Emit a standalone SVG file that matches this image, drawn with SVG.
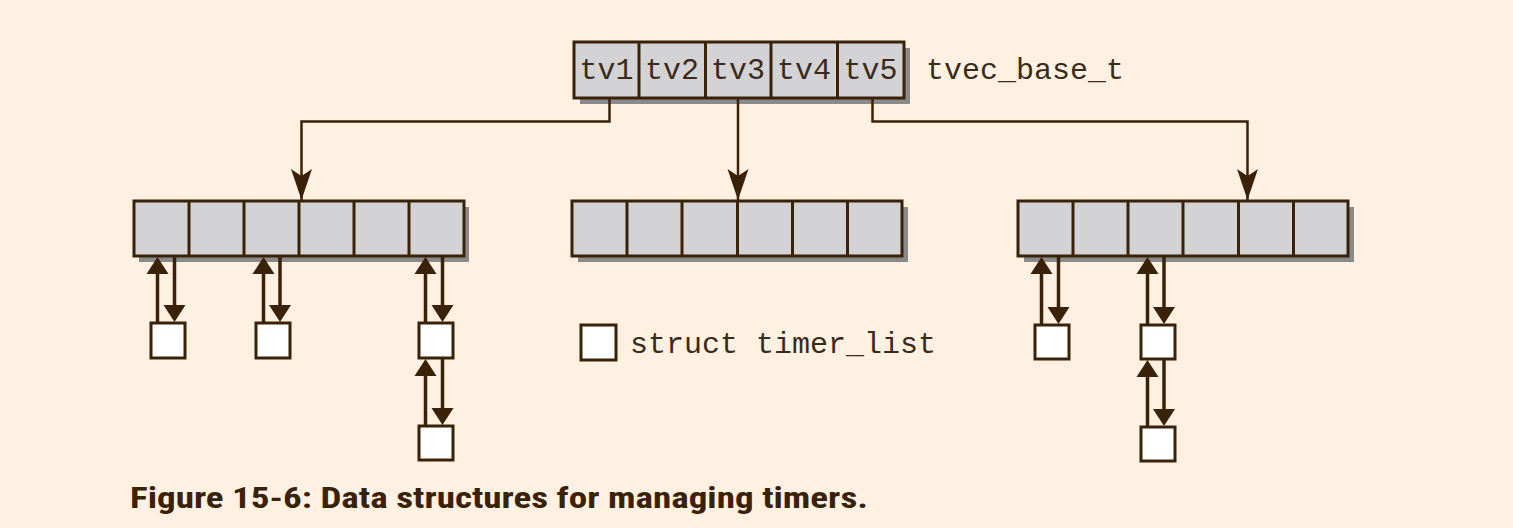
<svg xmlns="http://www.w3.org/2000/svg" width="1513" height="528" viewBox="0 0 1513 528">
<style>
.shadow{fill:#8a8a8a;}
.cell{fill:#d3d3d5;stroke:#3a2208;stroke-width:3;}
.div{stroke:#3a2208;stroke-width:3;}
.timer{fill:#ffffff;stroke:#3a2208;stroke-width:3;}
.mono{font-family:"Liberation Mono","DejaVu Sans Mono",monospace;font-size:30px;fill:#3a2a1a;}
.conn{fill:none;stroke:#3a2208;stroke-width:2.5;}
.link{fill:none;stroke:#3a2208;stroke-width:3.5;}
.head{fill:#3a2208;}
.caption{font-family:"Liberation Sans Narrow","Roboto Condensed","Liberation Sans",sans-serif;font-weight:bold;font-size:29px;fill:#3a2208;}
</style>
<defs>
<marker id="barb" markerUnits="userSpaceOnUse" viewBox="-32 -12 34 24" markerWidth="34" markerHeight="24" refX="0" refY="0" orient="auto">
<path d="M0,0 L-31,-10.5 L-24,0 L-31,10.5 Z" fill="#3a2208"/>
</marker>
<path id="up" class="head" d="M0,0 L-11,17 L11,17 Z"/>
<path id="down" class="head" d="M0,0 L-11,-17 L11,-17 Z"/>
</defs>
<rect width="1513" height="528" fill="#fff1e2"/>

<g id="tvec_base">
<rect class="shadow" x="580" y="48" width="330" height="56"/>
<rect class="cell" x="574" y="42" width="330" height="56"/>
<line class="div" x1="639" y1="42" x2="639" y2="98"/>
<line class="div" x1="705.5" y1="42" x2="705.5" y2="98"/>
<line class="div" x1="771" y1="42" x2="771" y2="98"/>
<line class="div" x1="837.5" y1="42" x2="837.5" y2="98"/>
<text class="mono" x="606.5" y="79" text-anchor="middle">tv1</text>
<text class="mono" x="672" y="79" text-anchor="middle">tv2</text>
<text class="mono" x="738" y="79" text-anchor="middle">tv3</text>
<text class="mono" x="804" y="79" text-anchor="middle">tv4</text>
<text class="mono" x="870.5" y="79" text-anchor="middle">tv5</text>
<text class="mono" x="926" y="79">tvec_base_t</text>
</g>

<g id="array_left">
<rect class="shadow" x="139" y="207" width="330" height="55"/>
<rect class="cell" x="134" y="201" width="330" height="55"/>
<line class="div" x1="189" y1="201" x2="189" y2="256"/>
<line class="div" x1="244" y1="201" x2="244" y2="256"/>
<line class="div" x1="299" y1="201" x2="299" y2="256"/>
<line class="div" x1="354" y1="201" x2="354" y2="256"/>
<line class="div" x1="409" y1="201" x2="409" y2="256"/>
</g>

<g id="array_middle">
<rect class="shadow" x="578" y="207" width="330" height="55"/>
<rect class="cell" x="572" y="201" width="330" height="55"/>
<line class="div" x1="627" y1="201" x2="627" y2="256"/>
<line class="div" x1="682" y1="201" x2="682" y2="256"/>
<line class="div" x1="737.5" y1="201" x2="737.5" y2="256"/>
<line class="div" x1="792.5" y1="201" x2="792.5" y2="256"/>
<line class="div" x1="847.5" y1="201" x2="847.5" y2="256"/>
</g>

<g id="array_right">
<rect class="shadow" x="1024" y="207" width="330" height="55"/>
<rect class="cell" x="1018" y="201" width="330" height="55"/>
<line class="div" x1="1073" y1="201" x2="1073" y2="256"/>
<line class="div" x1="1128" y1="201" x2="1128" y2="256"/>
<line class="div" x1="1183" y1="201" x2="1183" y2="256"/>
<line class="div" x1="1238.5" y1="201" x2="1238.5" y2="256"/>
<line class="div" x1="1293.5" y1="201" x2="1293.5" y2="256"/>
</g>

<g id="timer_l1"><rect class="timer" x="151" y="323" width="34" height="35"/></g>
<g id="timer_l2"><rect class="timer" x="256" y="323" width="34" height="35"/></g>
<g id="timer_l3a"><rect class="timer" x="419" y="323" width="34" height="35"/></g>
<g id="timer_l3b"><rect class="timer" x="419" y="426" width="34" height="34"/></g>
<g id="timer_r1"><rect class="timer" x="1035" y="325" width="34" height="34"/></g>
<g id="timer_r2a"><rect class="timer" x="1141" y="325" width="34" height="34"/></g>
<g id="timer_r2b"><rect class="timer" x="1141" y="427" width="34" height="34"/></g>

<g id="legend">
<rect class="timer" x="581" y="325" width="35" height="35"/>
<text class="mono" x="630" y="353">struct timer_list</text>
</g>

<g id="connectors">
<path class="conn" d="M609.5,98 V121.5 H301.5 V200" marker-end="url(#barb)"/>
<path class="conn" d="M738,98 V200" marker-end="url(#barb)"/>
<path class="conn" d="M872.5,98 V121.5 H1247.5 V200" marker-end="url(#barb)"/>

<path class="link" d="M157.5,323 V270 M174.5,256 V310"/>
<use href="#up" x="157.5" y="257"/><use href="#down" x="174.5" y="322"/>
<path class="link" d="M263.5,323 V270 M280,256 V310"/>
<use href="#up" x="263.5" y="257"/><use href="#down" x="280" y="322"/>
<path class="link" d="M425.5,323 V270 M442.5,256 V310"/>
<use href="#up" x="425.5" y="257"/><use href="#down" x="442.5" y="322"/>
<path class="link" d="M425.5,426 V372 M442.5,358 V412"/>
<use href="#up" x="425.5" y="359"/><use href="#down" x="442.5" y="425"/>

<path class="link" d="M1041.5,325 V270 M1058.5,256 V312"/>
<use href="#up" x="1041.5" y="257"/><use href="#down" x="1058.5" y="324"/>
<path class="link" d="M1147.5,325 V270 M1164,256 V312"/>
<use href="#up" x="1147.5" y="257"/><use href="#down" x="1164" y="324"/>
<path class="link" d="M1147.5,427 V373 M1164,359 V414"/>
<use href="#up" x="1147.5" y="360"/><use href="#down" x="1164" y="426"/>
</g>

<text class="caption" x="130" y="508" textLength="738" lengthAdjust="spacingAndGlyphs">Figure 15-6: Data structures for managing timers.</text>
</svg>
